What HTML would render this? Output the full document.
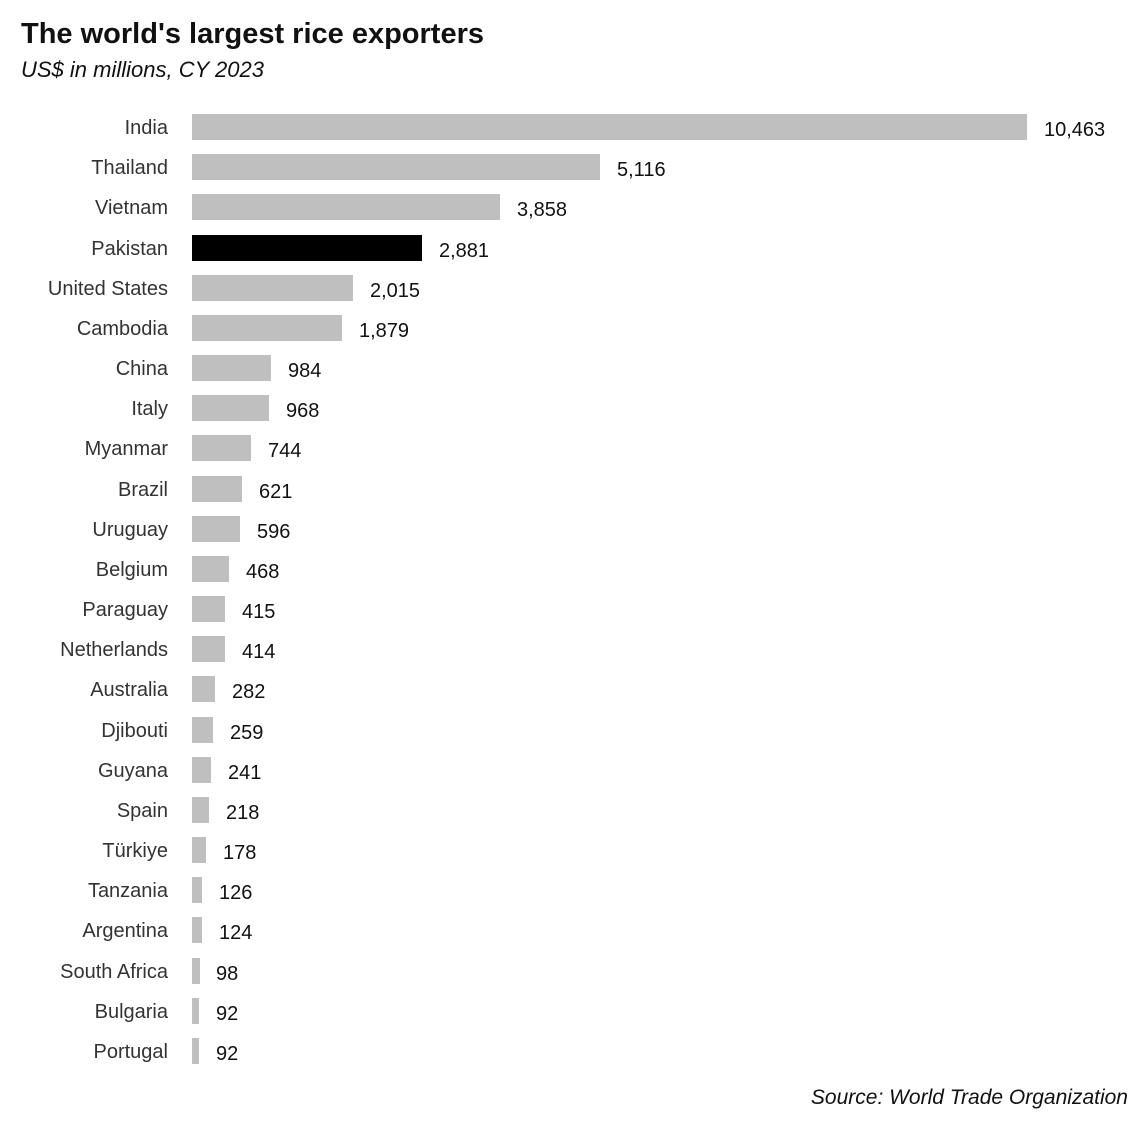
<!DOCTYPE html>
<html><head><meta charset="utf-8"><style>
html,body{margin:0;padding:0;background:#fff;}
svg text{font-family:"Liberation Sans",sans-serif;}
.l{font-size:20px;fill:#333;text-anchor:end;}
.v{font-size:20px;fill:#111;}
rect{fill:#bfbfbf;}
</style></head><body>
<svg width="1144" height="1116" xmlns="http://www.w3.org/2000/svg">
<text x="21" y="43" style="font-size:29px;font-weight:bold;fill:#111">The world's largest rice exporters</text>
<text x="21" y="77" style="font-size:22px;font-style:italic;fill:#111">US$ in millions, CY 2023</text>
<g>
<rect x="192" y="114" width="835" height="26"/><text class="l" x="168" y="134">India</text><text class="v" x="1044" y="136">10,463</text>
<rect x="192" y="154" width="408" height="26"/><text class="l" x="168" y="174">Thailand</text><text class="v" x="617" y="176">5,116</text>
<rect x="192" y="194" width="308" height="26"/><text class="l" x="168" y="214">Vietnam</text><text class="v" x="517" y="216">3,858</text>
<rect x="192" y="235" width="230" height="26" style="fill:#000"/><text class="l" x="168" y="255">Pakistan</text><text class="v" x="439" y="257">2,881</text>
<rect x="192" y="275" width="161" height="26"/><text class="l" x="168" y="295">United States</text><text class="v" x="370" y="297">2,015</text>
<rect x="192" y="315" width="150" height="26"/><text class="l" x="168" y="335">Cambodia</text><text class="v" x="359" y="337">1,879</text>
<rect x="192" y="355" width="79" height="26"/><text class="l" x="168" y="375">China</text><text class="v" x="288" y="377">984</text>
<rect x="192" y="395" width="77" height="26"/><text class="l" x="168" y="415">Italy</text><text class="v" x="286" y="417">968</text>
<rect x="192" y="435" width="59" height="26"/><text class="l" x="168" y="455">Myanmar</text><text class="v" x="268" y="457">744</text>
<rect x="192" y="476" width="50" height="26"/><text class="l" x="168" y="496">Brazil</text><text class="v" x="259" y="498">621</text>
<rect x="192" y="516" width="48" height="26"/><text class="l" x="168" y="536">Uruguay</text><text class="v" x="257" y="538">596</text>
<rect x="192" y="556" width="37" height="26"/><text class="l" x="168" y="576">Belgium</text><text class="v" x="246" y="578">468</text>
<rect x="192" y="596" width="33" height="26"/><text class="l" x="168" y="616">Paraguay</text><text class="v" x="242" y="618">415</text>
<rect x="192" y="636" width="33" height="26"/><text class="l" x="168" y="656">Netherlands</text><text class="v" x="242" y="658">414</text>
<rect x="192" y="676" width="23" height="26"/><text class="l" x="168" y="696">Australia</text><text class="v" x="232" y="698">282</text>
<rect x="192" y="717" width="21" height="26"/><text class="l" x="168" y="737">Djibouti</text><text class="v" x="230" y="739">259</text>
<rect x="192" y="757" width="19" height="26"/><text class="l" x="168" y="777">Guyana</text><text class="v" x="228" y="779">241</text>
<rect x="192" y="797" width="17" height="26"/><text class="l" x="168" y="817">Spain</text><text class="v" x="226" y="819">218</text>
<rect x="192" y="837" width="14" height="26"/><text class="l" x="168" y="857">Türkiye</text><text class="v" x="223" y="859">178</text>
<rect x="192" y="877" width="10" height="26"/><text class="l" x="168" y="897">Tanzania</text><text class="v" x="219" y="899">126</text>
<rect x="192" y="917" width="10" height="26"/><text class="l" x="168" y="937">Argentina</text><text class="v" x="219" y="939">124</text>
<rect x="192" y="958" width="8" height="26"/><text class="l" x="168" y="978">South Africa</text><text class="v" x="216" y="980">98</text>
<rect x="192" y="998" width="7" height="26"/><text class="l" x="168" y="1018">Bulgaria</text><text class="v" x="216" y="1020">92</text>
<rect x="192" y="1038" width="7" height="26"/><text class="l" x="168" y="1058">Portugal</text><text class="v" x="216" y="1060">92</text>
</g>
<text x="1128" y="1104" style="font-size:21px;font-style:italic;fill:#111;text-anchor:end">Source: World Trade Organization</text>
</svg>
</body></html>
